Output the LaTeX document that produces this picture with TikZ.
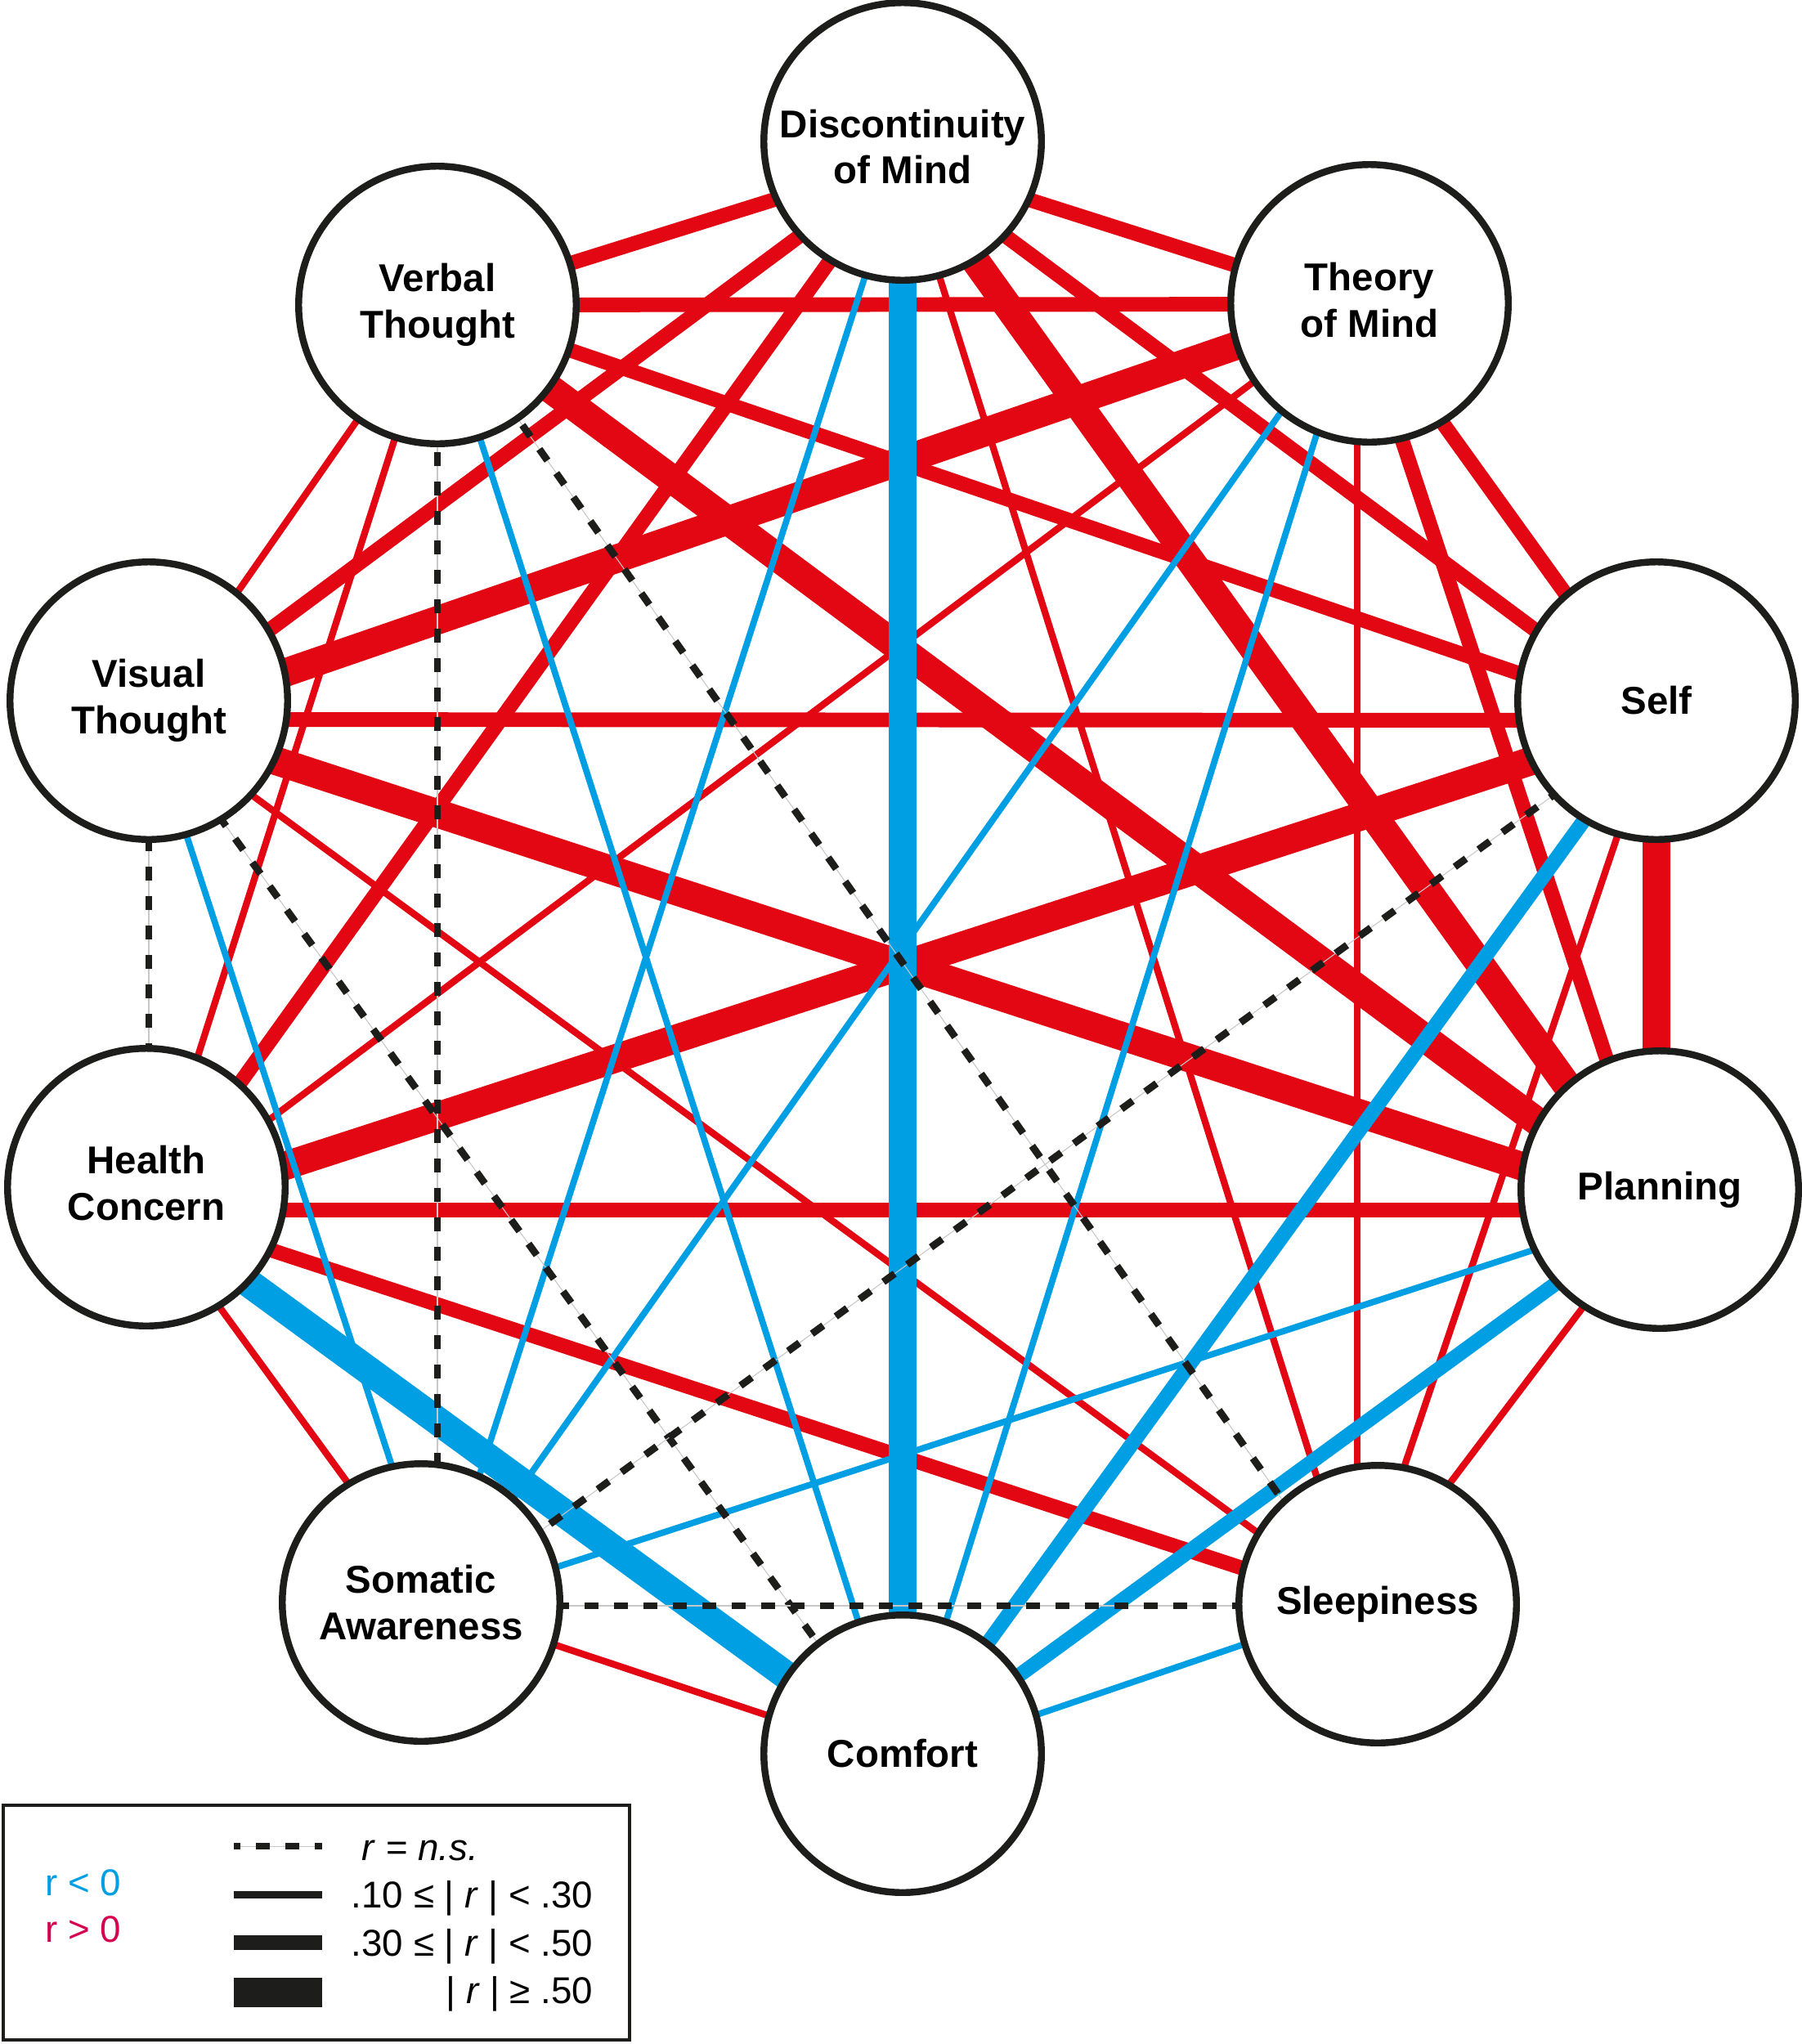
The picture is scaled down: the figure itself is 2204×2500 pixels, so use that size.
\documentclass[tikz,border=0pt]{standalone}
\usepackage{fontspec}
\setmainfont{Liberation Sans}
\usetikzlibrary{backgrounds}
\definecolor{cred}{RGB}{227,6,19}
\definecolor{cblue}{RGB}{0,159,227}
\definecolor{cdark}{RGB}{29,29,27}
\definecolor{cpink}{RGB}{214,0,81}
\begin{document}
\begin{tikzpicture}[x=0.1mm,y=-0.1mm,
  var/.style={circle, draw=cdark, line width=2.4pt, fill=white, minimum size=33.95mm,
    inner sep=0pt, align=center, font=\fontsize{13.5}{16.2}\selectfont\bfseries},
  rthin/.style={draw=cred, line width=2.36pt},
  rmed/.style={draw=cred, line width=5.1pt},
  rthick/.style={draw=cred, line width=9.9pt},
  bthin/.style={draw=cblue, line width=2.2pt},
  bmed/.style={draw=cblue, line width=5.1pt},
  bthick/.style={draw=cblue, line width=9.9pt},
  nsline/.style={draw=cdark, line width=2.5pt, dash pattern=on 4.84pt off 5.4pt,
    preaction={draw=black!22, line width=0.3pt, solid}},
  legtxt/.style={font=\fontsize{13}{15}\selectfont, inner sep=0pt}
]
\useasboundingbox (0,0) rectangle (2204,2500);

% variables
\node[var] (D)  at (1104,173)  {\rule{0pt}{13.5pt}Discontinuity\\of Mind};
\node[var] (V)  at (535,373)   {Verbal\\Thought};
\node[var] (T)  at (1675,371)  {Theory\\of Mind\rule[-2.5pt]{0pt}{0pt}};
\node[var] (Vi) at (182,857)   {Visual\\Thought};
\node[var] (Se) at (2026,857)  {Self};
\node[var] (H)  at (179,1452)  {Health\\Concern\rule[-2.8pt]{0pt}{0pt}};
\node[var] (P)  at (2030,1455) {Planning};
\node[var] (So) at (515,1960)  {Somatic\\Awareness};
\node[var] (Sl) at (1685,1962) {Sleepiness};
\node[var] (C)  at (1104,2145) {Comfort};

% connection hubs
\coordinate (hD)  at ([shift={(0,22)}]D.center);
\coordinate (hV)  at ([shift={(0,0)}]V.center);
\coordinate (hT)  at ([shift={(-15,1)}]T.center);
\coordinate (hVi) at ([shift={(0,23)}]Vi.center);
\coordinate (hSe) at ([shift={(0,24)}]Se.center);
\coordinate (hH)  at ([shift={(3,28)}]H.center);
\coordinate (hP)  at ([shift={(-4,25)}]P.center);
\coordinate (hSo) at ([shift={(20,4)}]So.center);
\coordinate (hSl) at ([shift={(-25,2)}]Sl.center);
\coordinate (hC)  at ([shift={(0,8)}]C.center);

\begin{scope}[on background layer]
\fill[white] (0,0) rectangle (2204,2500);
% r > 0
\draw[rmed] (hD) -- (hV);
\draw[rmed] (hD) -- (hT);
\draw[rmed] (hD) -- (hVi);
\draw[rmed] (hD) -- (hSe);
\draw[rmed] (hD) -- (hH);
\draw[rthick] (hD) -- (hP);
\draw[rthin] (hD) -- (hSl);
\draw[rmed] (hV) -- (hT);
\draw[rthin] (hV) -- (hVi);
\draw[rmed] (hV) -- (hSe);
\draw[rthin] (hV) -- (hH);
\draw[rthick] (hV) -- (hP);
\draw[rthick] (hT) -- (hVi);
\draw[rmed] (hT) -- (hSe);
\draw[rthin] (hT) -- (hH);
\draw[rmed] (hT) -- (hP);
\draw[rthin] (hT) -- (hSl);
\draw[rmed] (hVi) -- (hSe);
\draw[rthick] (hVi) -- (hP);
\draw[rthin] (hVi) -- (hSl);
\draw[rthick] (hSe) -- (hH);
\draw[rthick] (hSe) -- (hP);
\draw[rthin] (hSe) -- (hSl);
\draw[rmed] (hH) -- (hP);
\draw[rthin] (hH) -- (hSo);
\draw[rmed] (hH) -- (hSl);
\draw[rthin] (hP) -- (hSl);
\draw[rthin] (hSo) -- (hC);
% r < 0
\draw[bthin] (hD) -- (hSo);
\draw[bthick] (hD) -- (hC);
\draw[bthin] (hV) -- (hC);
\draw[bthin] (hT) -- (hSo);
\draw[bthin] (hT) -- (hC);
\draw[bthin] (hVi) -- (hSo);
\draw[bmed] (hSe) -- (hC);
\draw[bthick] (hH) -- (hC);
\draw[bthin] (hP) -- (hSo);
\draw[bmed] (hP) -- (hC);
\draw[bthin] (hSl) -- (hC);
% n.s.
\draw[nsline] (hV) -- (hSo);
\draw[nsline] (hV) -- (hSl);
\draw[nsline] (hVi) -- (hH);
\draw[nsline] (hVi) -- (hC);
\draw[nsline] (hSe) -- (hSo);
\draw[nsline] (hSo) -- (hSl);
\end{scope}

% legend
\node[draw=cdark, line width=1.1pt, minimum width=76.6mm, minimum height=28.7mm,
  inner sep=0pt] (legend) at (387,2351.5) {};
\draw[nsline, dash phase=2.6pt] (286,2258) -- (394,2258);
\draw[cdark, line width=2.56pt] (286,2317) -- (394,2317);
\draw[cdark, line width=5.1pt] (286,2376) -- (394,2376);
\draw[cdark, line width=10.2pt] (286,2437) -- (394,2437);
\node[legtxt, anchor=base west] (lns) at (442,2275) {\textit{r} = \textit{n.s.}};
\node[legtxt, anchor=base east] (l1) at (726,2333) {.10 ≤ | \textit{r} | < .30};
\node[legtxt, anchor=base east] (l2) at (726,2392) {.30 ≤ | \textit{r} | < .50};
\node[legtxt, anchor=base east] (l3) at (726,2450) {| \textit{r} | ≥ .50};
\node[legtxt, anchor=base west, text=cblue] (lneg) at (55,2318) {r < 0};
\node[legtxt, anchor=base west, text=cpink] (lpos) at (55,2375) {r > 0};
\end{tikzpicture}
\end{document}
